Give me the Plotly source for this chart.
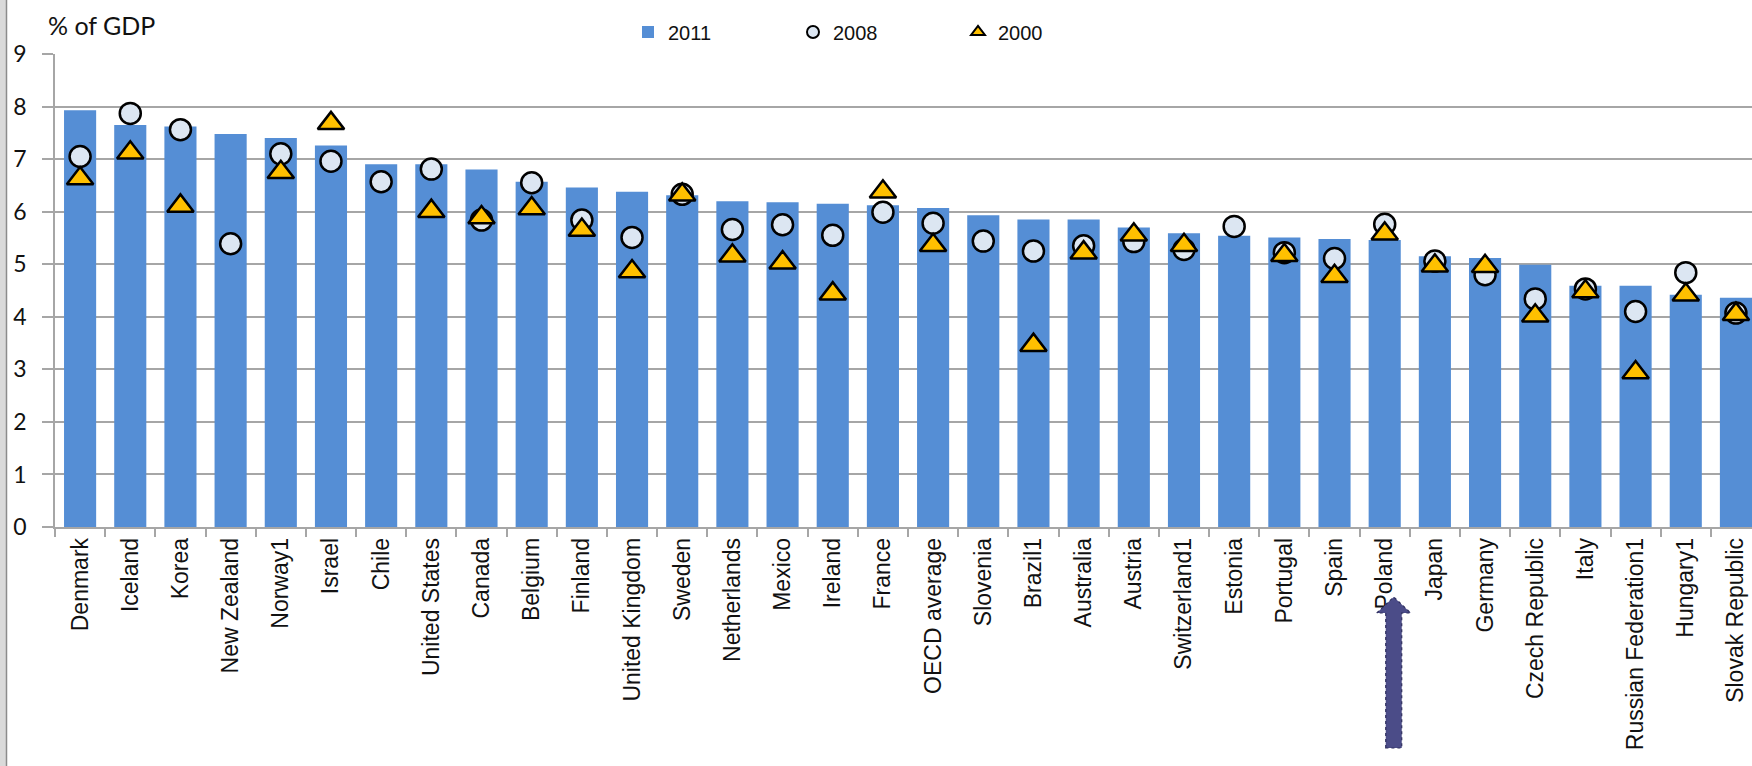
import plotly.graph_objects as go

categories = ["Denmark", "Iceland", "Korea", "New Zealand", "Norway1", "Israel", "Chile",
              "United States", "Canada", "Belgium", "Finland", "United Kingdom", "Sweden",
              "Netherlands", "Mexico", "Ireland", "France", "OECD average", "Slovenia",
              "Brazil1", "Australia", "Austria", "Switzerland1", "Estonia", "Portugal",
              "Spain", "Poland", "Japan", "Germany", "Czech Republic", "Italy",
              "Russian Federation1", "Hungary1", "Slovak Republic"]

v2011 = [7.93, 7.65, 7.62, 7.48, 7.40, 7.26, 6.90, 6.90, 6.80, 6.57, 6.46, 6.38, 6.31,
         6.20, 6.18, 6.15, 6.12, 6.07, 5.93, 5.85, 5.85, 5.70, 5.59, 5.54, 5.51, 5.48,
         5.46, 5.15, 5.12, 4.99, 4.59, 4.59, 4.42, 4.36]
v2008 = [7.05, 7.87, 7.56, 5.39, 7.10, 6.96, 6.57, 6.81, 5.84, 6.55, 5.84, 5.51, 6.33,
         5.66, 5.75, 5.55, 5.99, 5.78, 5.44, 5.25, 5.35, 5.43, 5.28, 5.72, 5.22, 5.11,
         5.76, 5.06, 4.80, 4.34, 4.53, 4.10, 4.84, 4.07]
v2000 = [6.63, 7.12, 6.11, None, 6.75, 7.68, None, 6.01, 5.89, 6.06, 5.65, 4.86, 6.32,
         5.16, 5.03, 4.44, 6.38, 5.36, None, 3.46, 5.22, 5.56, 5.36, None, 5.17, 4.77,
         5.58, 4.97, 4.96, 4.02, 4.48, 2.94, 4.42, 4.05]

y_ticks = [0, 1, 2, 3, 4, 5, 6, 7, 8, 9]
highlight = "Poland"

W, H = 1752, 766
ML, MR, MT, MB = 55, 0, 54, 239
XR = [-0.5, 33.32]

fig = go.Figure()
fig.add_trace(go.Bar(x=categories, y=v2011, name="2011", width=0.64,
                     marker=dict(color="#558ED5", line=dict(width=0))))
fig.add_trace(go.Scatter(x=categories, y=v2008, name="2008", mode="markers",
                         marker=dict(symbol="circle", size=21, color="#DCE6F2",
                                     line=dict(color="#000000", width=2.5))))
fig.add_trace(go.Scatter(x=categories, y=v2000, name="2000", mode="markers",
                         marker=dict(symbol="triangle-up", size=23, color="#FFC000",
                                     line=dict(color="#000000", width=2.5))))

pw = W - ML - MR
ph = H - MT - MB
def px(xp):
    return (xp - ML) / pw
def py(yp):
    return (H - MB - yp) / ph

fig.update_layout(
    width=W, height=H, autosize=False,
    margin=dict(l=ML, r=MR, t=MT, b=MB, pad=0),
    paper_bgcolor="white", plot_bgcolor="white",
    showlegend=True,
    legend=dict(orientation="h", x=px(628), xanchor="left",
                y=py(32), yanchor="middle",
                font=dict(family="Liberation Sans, Arial", size=20, color="#111"),
                entrywidth=120, entrywidthmode="pixels", itemsizing="constant",
                bgcolor="rgba(0,0,0,0)", traceorder="normal"),
    xaxis=dict(type="category", range=XR, tickangle=-90, showgrid=False,
               showline=True, linecolor="#A6A6A6", linewidth=1.5,
               ticks="outside", ticklen=8, tickcolor="#A6A6A6", tickwidth=1.5,
               tickson="boundaries",
               tickfont=dict(family="Liberation Sans, Arial", size=23, color="#111")),
    yaxis=dict(range=[0, 9], tickvals=y_ticks, showgrid=True, gridcolor="#A6A6A6",
               gridwidth=1.5, zeroline=False, showline=True, linecolor="#A6A6A6",
               linewidth=1.5, ticks="outside", ticklen=11, tickcolor="#A6A6A6",
               tickwidth=1.5, ticklabelstandoff=11,
               tickfont=dict(family="Lato, Calibri, sans-serif", size=23, color="#111")),
    annotations=[dict(text="% of GDP", xref="paper", yref="paper",
                      x=px(46), y=py(25),
                      xanchor="left", yanchor="middle", showarrow=False,
                      font=dict(family="Lato, Calibri, sans-serif", size=25, color="#111"))],
)

# left grey border strip of the original screenshot
shapes = [
    dict(type="rect", xref="paper", yref="paper", x0=px(0), x1=px(6), y0=py(H), y1=py(0),
         fillcolor="#DADADA", line=dict(width=0), layer="above"),
    dict(type="line", xref="paper", yref="paper", x0=px(6.5), x1=px(6.5), y0=py(H), y1=py(0),
         line=dict(color="#8C8C8C", width=1.5), layer="above"),
]

# arrow pointing at the highlighted country
idx = categories.index(highlight)
cw = pw / (XR[1] - XR[0])
cx = ML + (idx - XR[0]) * cw + 0.18 * cw
sh = 8
hd = 17
tip, base, bottom = 597, 613, 748
path = (f"M {px(cx - sh)},{py(bottom)} L {px(cx - sh)},{py(base)} L {px(cx - hd)},{py(base)} "
        f"L {px(cx)},{py(tip)} L {px(cx + hd)},{py(base)} L {px(cx + sh)},{py(base)} "
        f"L {px(cx + sh)},{py(bottom)} Z")
shapes.append(dict(type="path", xref="paper", yref="paper", path=path,
                   fillcolor="#4B4C88", line=dict(color="#2E2F5E", width=1.2, dash="dot"),
                   layer="above"))
fig.update_layout(shapes=shapes)

fig.write_html("out.html", config={"displayModeBar": False},
               post_script="document.body.style.margin='0';document.body.style.overflow='hidden';")
